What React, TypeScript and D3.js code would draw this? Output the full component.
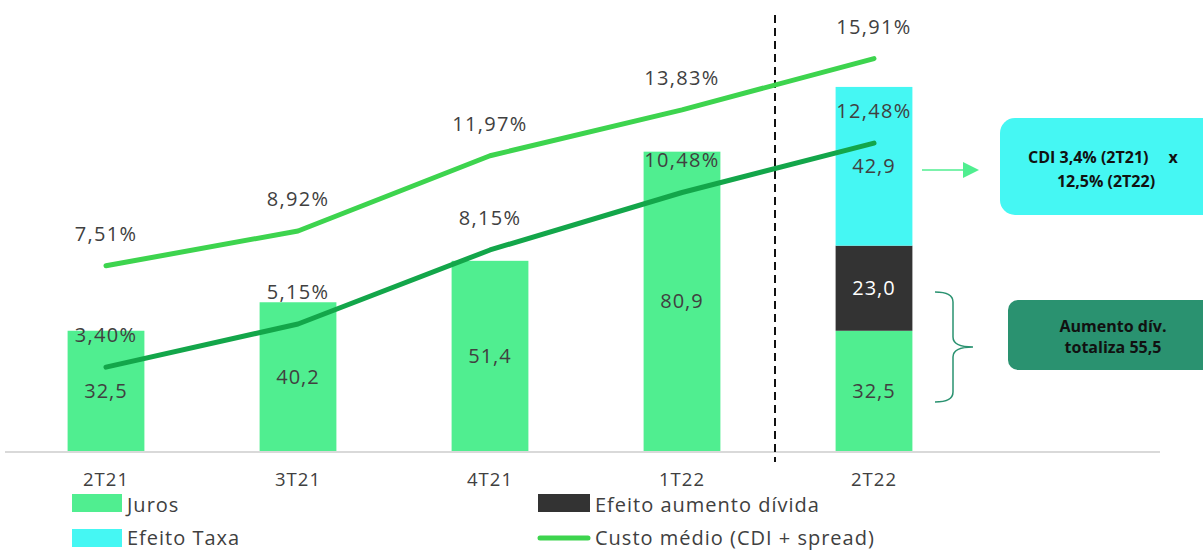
import React from 'react';
import * as d3 from 'd3';

const categories = ['2T21', '3T21', '4T21', '1T22', '2T22'];
const juros = [32.5, 40.2, 51.4, 80.9, 32.5];
const efeitoAumento = [0, 0, 0, 0, 23.0];
const efeitoTaxa = [0, 0, 0, 0, 42.9];
const custoMedio = [7.51, 8.92, 11.97, 13.83, 15.91];
const cdi = [3.40, 5.15, 8.15, 10.48, 12.48];

const W = 1203, H = 550;
const TOP = 7, BOTTOM = 451;
const C_JUROS = '#50EE90';
const C_TAXA = '#45F7F3';
const C_DIV = '#333333';
const C_CUSTO = '#3DD44E';
const C_CDI = '#13A64A';
const TXT = '#404040';
const FONT = 'Open Sans, sans-serif';
const LS = 1;

const loc = d3.formatLocale({ decimal: ',', thousands: '.', grouping: [3], currency: ['R$', ''] });
const f1 = loc.format('.1f');
const f2 = loc.format('.2f');

export default function App() {
  const x = d3.scaleBand<string>().domain(categories).range([10, 970]).paddingInner(0.6).paddingOuter(0.3);
  const y = d3.scaleLinear().domain([0, 120]).range([BOTTOM, TOP]);
  const y2 = d3.scaleLinear().domain([0, 18]).range([BOTTOM, TOP]);
  const cx = (c: string) => (x(c) as number) + x.bandwidth() / 2;

  const stackData = categories.map((c, i) => ({ c, juros: juros[i], aum: efeitoAumento[i], taxa: efeitoTaxa[i] }));
  const stack = d3.stack<any>().keys(['juros', 'aum', 'taxa'])(stackData);
  const colors: Record<string, string> = { juros: C_JUROS, aum: C_DIV, taxa: C_TAXA };
  const labelColors: Record<string, string> = { juros: TXT, aum: '#ffffff', taxa: TXT };

  const line = d3.line<number>().x((_, i) => cx(categories[i])).y((d) => y2(d));

  const divX = (cx(categories[3]) + cx(categories[4])) / 2 - 3;

  return (
    <svg width={W} height={H} style={{ position: 'absolute', left: 0, top: 0, background: '#fff' }} fontFamily={FONT}>
      {/* bars */}
      {stack.map((s) => (
        <g key={s.key}>
          {s.map((d, i) =>
            d[1] - d[0] > 0 ? (
              <g key={i}>
                <rect x={x(categories[i])} y={y(d[1])} width={x.bandwidth()} height={y(d[0]) - y(d[1])} fill={colors[s.key]} />
                <text x={cx(categories[i])} y={(y(d[0]) + y(d[1])) / 2} dy="0.35em" textAnchor="middle" fontSize={20} letterSpacing={LS} fill={labelColors[s.key]}>
                  {f1(d[1] - d[0])}
                </text>
              </g>
            ) : null
          )}
        </g>
      ))}

      {/* axis baseline */}
      <line x1={5} x2={1160} y1={BOTTOM + 1} y2={BOTTOM + 1} stroke="#d9d9d9" strokeWidth={2} />
      {categories.map((c) => (
        <text key={c} x={cx(c)} y={480} dy="0.35em" textAnchor="middle" fontSize={18.5} letterSpacing={LS} fill={TXT}>{c}</text>
      ))}

      {/* divider */}
      <line x1={divX} x2={divX} y1={15} y2={462} stroke="#111" strokeWidth={2} strokeDasharray="8,5" />

      {/* lines */}
      <path d={line(custoMedio) || ''} fill="none" stroke={C_CUSTO} strokeWidth={5} strokeLinecap="round" strokeLinejoin="round" />
      <path d={line(cdi) || ''} fill="none" stroke={C_CDI} strokeWidth={5} strokeLinecap="round" strokeLinejoin="round" />
      {custoMedio.map((v, i) => (
        <text key={'cm' + i} x={cx(categories[i])} y={y2(v) - 32} dy="0.35em" textAnchor="middle" fontSize={20} letterSpacing={1.3} fill={TXT}>{f2(v) + '%'}</text>
      ))}
      {cdi.map((v, i) => (
        <text key={'cdi' + i} x={cx(categories[i])} y={y2(v) - 32} dy="0.35em" textAnchor="middle" fontSize={20} letterSpacing={1.3} fill={TXT}>{f2(v) + '%'}</text>
      ))}

      {/* arrow + cyan box */}
      <line x1={922} x2={964} y1={170} y2={170} stroke={C_JUROS} strokeWidth={1.5} />
      <path d="M963,162 L979,170 L963,178 Z" fill={C_JUROS} />
      <rect x={1000} y={118} width={230} height={97} rx={15} fill={C_TAXA} />
      <text x={1028} y={157} dy="0.35em" fontSize={16} fontWeight="bold" fill="#111">CDI 3,4% (2T21)</text>
      <text x={1173} y={157} dy="0.35em" fontSize={16} fontWeight="bold" fill="#111" textAnchor="middle">x</text>
      <text x={1106} y={181} dy="0.35em" fontSize={16} fontWeight="bold" fill="#111" textAnchor="middle">12,5% (2T22)</text>

      {/* brace + green box */}
      <path
        d="M935,292 Q953,292 953,302 L953,337 Q953,347 973,347 Q953,347 953,357 L953,392 Q953,402 935,402"
        fill="none" stroke="#2A9270" strokeWidth={1.5}
      />
      <rect x={1008} y={300} width={230} height={70} rx={10} fill="#2A9270" />
      <text x={1113} y={326} dy="0.35em" fontSize={16} fontWeight="bold" fill="#111" textAnchor="middle">Aumento dív.</text>
      <text x={1113} y={347} dy="0.35em" fontSize={16} fontWeight="bold" fill="#111" textAnchor="middle">totaliza 55,5</text>

      {/* legend */}
      <rect x={72} y={494} width={50} height={18} fill={C_JUROS} />
      <text x={127} y={505} dy="0.35em" fontSize={20} letterSpacing={LS} fill={TXT}>Juros</text>
      <rect x={72} y={529} width={50} height={18} fill={C_TAXA} />
      <text x={127} y={538} dy="0.35em" fontSize={20} letterSpacing={LS} fill={TXT}>Efeito Taxa</text>
      <rect x={538} y={494} width={52} height={18} fill={C_DIV} />
      <text x={595} y={505} dy="0.35em" fontSize={20} letterSpacing={LS} fill={TXT}>Efeito aumento dívida</text>
      <line x1={540} x2={588} y1={538} y2={538} stroke={C_CUSTO} strokeWidth={5} strokeLinecap="round" />
      <text x={595} y={538} dy="0.35em" fontSize={20} letterSpacing={LS} fill={TXT}>Custo médio (CDI + spread)</text>
    </svg>
  );
}
